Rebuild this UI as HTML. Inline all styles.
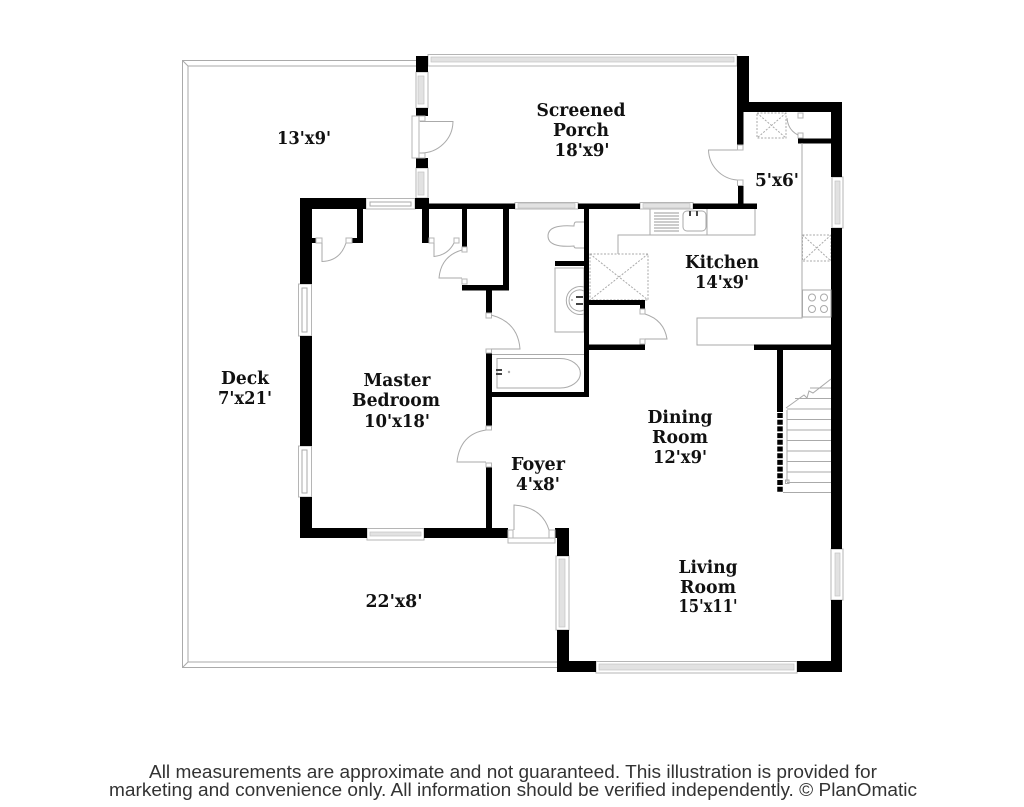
<!DOCTYPE html>
<html><head><meta charset="utf-8"><style>
html,body{margin:0;padding:0;background:#fff;width:1024px;height:807px;overflow:hidden}
svg{display:block;filter:blur(.35px)}
.l{font-family:"DejaVu Serif",serif;font-weight:bold;font-size:17.5px;fill:#111;text-anchor:middle}
.f{font-family:"Liberation Sans",sans-serif;font-size:18px;fill:#333;text-anchor:middle}
.g{fill:none;stroke:#aaa;stroke-width:1}
.d{fill:none;stroke:#aaa;stroke-width:1;stroke-dasharray:2 1.5}
.w{fill:#fff;stroke:#b5b5b5;stroke-width:1}
.p{fill:#e2e2e2;stroke:#c4c4c4;stroke-width:.7}
</style></head><body>
<svg width="1024" height="807" viewBox="0 0 1024 807" xmlns="http://www.w3.org/2000/svg">
<rect width="1024" height="807" fill="#fff"/>
<!-- Deck -->
<path class="g" d="M416 60.5H182.5V667.5H557M416 66H188V662H557M182.5 60.5L188 66M182.5 667.5L188 662"/>
<!-- Chases -->
<g class="d">
<rect x="757" y="113" width="29" height="25"/><path d="M757 113L786 138M786 113L757 138"/>
<rect x="802.5" y="235" width="28.5" height="26"/><path d="M802.5 235L831 261M831 235L802.5 261"/>
<rect x="590" y="254" width="58" height="46"/><path d="M590 254L648 300M648 254L590 300"/>
</g>
<!-- Windows -->
<g>
<rect class="w" x="428" y="54.5" width="309" height="11.5"/><rect class="p" x="431" y="57" width="303" height="5"/>
<rect class="w" x="416" y="72" width="12" height="36"/><rect class="p" x="418" y="76" width="6" height="28"/>
<rect class="w" x="416" y="168" width="12" height="30"/><rect class="p" x="418" y="172" width="6" height="23"/>
<rect class="w" x="366" y="198.5" width="49" height="10.5"/><rect class="g" x="370" y="202" width="41" height="4"/>
<rect class="w" x="515" y="202.5" width="63" height="6.5"/><rect class="p" x="518" y="203.5" width="57" height="4.5"/>
<rect class="w" x="640" y="202.5" width="53" height="6.5"/><rect class="p" x="643" y="203.5" width="47" height="4.5"/>
<rect class="w" x="832" y="177" width="11" height="51"/><rect class="p" x="835" y="181" width="5" height="43"/>
<rect class="w" x="298.5" y="284" width="13" height="52"/><rect class="g" x="302" y="288" width="5" height="44"/>
<rect class="w" x="298.5" y="446" width="13" height="51"/><rect class="g" x="302" y="450" width="5" height="43"/>
<rect class="w" x="367" y="528.5" width="57" height="11.5"/><rect class="p" x="370" y="532" width="51" height="4"/>
<rect class="w" x="556" y="556" width="13" height="74"/><rect class="p" x="559" y="559" width="6" height="68"/>
<rect class="w" x="831" y="549" width="12" height="51"/><rect class="p" x="835" y="553" width="5" height="43"/>
<rect class="w" x="596" y="661.5" width="201" height="11.5"/><rect class="p" x="599" y="664" width="195" height="6"/>
</g>
<!-- Bathroom fixtures -->
<g class="g">
<path d="M584 222H576Q574 222 574 226Q548 224 548 236Q548 248 574 246Q574 248 576 248H584"/>
<rect x="555" y="268" width="29" height="64"/>
<path d="M584 287A14 14 0 1 0 584 314M584 291A10.5 10.5 0 1 0 584 310"/>
<path d="M492 354.5H584"/>
<path d="M497 358.5H560A20 14.5 0 0 1 560 388H497Z"/>
</g>
<g fill="#444"><rect x="496" y="369" width="6" height="2"/><rect x="496" y="373" width="6" height="2"/><rect x="576" y="296" width="7" height="2"/><rect x="576" y="303" width="7" height="2"/></g>
<circle cx="509" cy="372" r="1.2" fill="#aaa"/><circle cx="572" cy="300" r="1" fill="#aaa"/>
<!-- Walls -->
<g fill="#000">
<rect x="416" y="56" width="12" height="16"/><rect x="416" y="108" width="12" height="8"/><rect x="416" y="158" width="12" height="10"/>
<rect x="737" y="56" width="12" height="56"/><rect x="737" y="102" width="105" height="10"/><rect x="831" y="102" width="11" height="75"/>
<rect x="737" y="110" width="6.5" height="35"/><rect x="798" y="138.5" width="33" height="5"/>
<rect x="738" y="186" width="5.5" height="20"/>
<rect x="415" y="198" width="14" height="11"/><rect x="415" y="203.5" width="100" height="5.5"/><rect x="578" y="203.5" width="62" height="5.5"/><rect x="693" y="203.5" width="64" height="5.5"/>
<rect x="300" y="198" width="66" height="11"/><rect x="300" y="198" width="12" height="86"/><rect x="300" y="336" width="12" height="110"/><rect x="300" y="497" width="12" height="41"/>
<rect x="300" y="528" width="67" height="10"/><rect x="424" y="528" width="84" height="10"/>
<rect x="357" y="205" width="6" height="38"/><rect x="352" y="238" width="11" height="5"/><rect x="312" y="238" width="4" height="5"/>
<rect x="422" y="205" width="7" height="38"/>
<rect x="462" y="205" width="5" height="42"/><rect x="503" y="205" width="6" height="85"/><rect x="462" y="285" width="47" height="5.5"/>
<rect x="486" y="288" width="6" height="25"/><rect x="486" y="353" width="6" height="73"/><rect x="486" y="467" width="6" height="65"/>
<rect x="584" y="205" width="5" height="192"/><rect x="486" y="392" width="103" height="5"/><rect x="555" y="261" width="30" height="5"/>
<rect x="587" y="300" width="58" height="5"/><rect x="640" y="302" width="5" height="7"/><rect x="587" y="344.5" width="58" height="5.5"/>
<rect x="754" y="344.5" width="80" height="5.5"/><rect x="777" y="348" width="6" height="64"/>
<rect x="831" y="228" width="11" height="321"/><rect x="831" y="600" width="11" height="72"/>
<rect x="797" y="661" width="45" height="11"/><rect x="557" y="661" width="39" height="11"/><rect x="557" y="630" width="12" height="42"/>
<rect x="557" y="528" width="12" height="28"/><rect x="555" y="528" width="14" height="10"/>
</g>
<!-- Dashed stair wall -->
<path d="M780 413V492" stroke="#000" stroke-width="5.5" stroke-dasharray="5 1.7" fill="none"/>
<!-- Door jamb squares -->
<g>
<rect class="w" x="737.5" y="145" width="5.5" height="5"/><rect class="w" x="737.5" y="180" width="5.5" height="5.5"/>
<rect class="w" x="798" y="113" width="5" height="5"/><rect class="w" x="798" y="133" width="5" height="5"/>
<rect class="w" x="419" y="116" width="6" height="5"/><rect class="w" x="419" y="153" width="6" height="5"/>
<rect class="w" x="316" y="238" width="6" height="5"/><rect class="w" x="346" y="238" width="6" height="5"/>
<rect class="w" x="429" y="238" width="5" height="5"/><rect class="w" x="454" y="238" width="5" height="5"/>
<rect class="w" x="462" y="247" width="5" height="5"/><rect class="w" x="462" y="279" width="5" height="5"/>
<rect class="w" x="486" y="313" width="5.5" height="5"/><rect class="w" x="486" y="349" width="5.5" height="4"/>
<rect class="w" x="486" y="426" width="5.5" height="4"/><rect class="w" x="486" y="463" width="5.5" height="4"/>
<rect class="w" x="640" y="309" width="5" height="5"/><rect class="w" x="640" y="339" width="5" height="5"/>
<rect class="w" x="508" y="530" width="5" height="8"/><rect class="w" x="549" y="530" width="6" height="8"/>
</g>
<!-- Door frames -->
<rect class="w" x="412" y="116" width="7" height="42"/>
<rect class="w" x="508" y="538" width="47" height="5"/>
<!-- Door arcs -->
<g class="g">
<path d="M420 121.5H453A32 32 0 0 1 420 153"/>
<path d="M737 150H708.5A31 31 0 0 0 737 180"/>
<path d="M787 118Q788 130 798 135"/>
<path d="M322 243V261.5Q340 261 346 243"/>
<path d="M434 243V256.5Q448 255 454 243"/>
<path d="M462 250Q441 256 439 278H462"/>
<path d="M491 315Q518 322 520 349H491"/>
<path d="M486 430Q460 434 457 462H486"/>
<path d="M645 314Q664 320 667 339H645"/>
<path d="M514 530V505Q542 507 549 530"/>
</g>
<!-- Kitchen -->
<g class="g">
<path d="M755 209V235H618V254"/>
<path d="M650 209V235M707 209V235"/>
<rect x="683" y="211" width="23" height="20" rx="4"/>
<path d="M654 213H679M654 216H679M654 219H679M654 222H679M654 225H679M654 228H679M654 231H679" stroke="#999"/>
<path d="M802 143V318H697V345H754"/>
<rect x="802.5" y="290" width="28.5" height="27"/>
<circle cx="812" cy="297.5" r="3.5"/><circle cx="824" cy="297.5" r="3.5"/><circle cx="812" cy="309" r="3.5"/><circle cx="824" cy="309" r="3.5"/>
</g>
<g fill="#444"><rect x="689" y="211" width="2" height="5"/><rect x="696" y="211" width="2" height="5"/></g>
<!-- Stairs -->
<g class="g">
<path d="M787 410V482M783 492.5H831"/>
<path d="M810 388H831M795 398.5H831M787 409H831M787 419.5H831M787 430H831M787 440.5H831M787 451H831M787 461.5H831M787 472H831M787 482.5H831"/>
<path d="M786 408L804 395L807 398L809 391L813 393L831 379"/>
</g>
<rect class="g" x="785.5" y="480" width="3.5" height="3.5"/>
<!-- Labels -->
<text class="l" x="581" y="116" textLength="89" lengthAdjust="spacingAndGlyphs">Screened</text>
<text class="l" x="581" y="136" textLength="56" lengthAdjust="spacingAndGlyphs">Porch</text>
<text class="l" x="582" y="156" textLength="55" lengthAdjust="spacingAndGlyphs">18'x9'</text>
<text class="l" x="304" y="144" textLength="54" lengthAdjust="spacingAndGlyphs">13'x9'</text>
<text class="l" x="777" y="186" textLength="44" lengthAdjust="spacingAndGlyphs">5'x6'</text>
<text class="l" x="722" y="268" textLength="74" lengthAdjust="spacingAndGlyphs">Kitchen</text>
<text class="l" x="722" y="288" textLength="54" lengthAdjust="spacingAndGlyphs">14'x9'</text>
<text class="l" x="245" y="384" textLength="48" lengthAdjust="spacingAndGlyphs">Deck</text>
<text class="l" x="245" y="404" textLength="54" lengthAdjust="spacingAndGlyphs">7'x21'</text>
<text class="l" x="397" y="386" textLength="67" lengthAdjust="spacingAndGlyphs">Master</text>
<text class="l" x="396" y="406" textLength="88" lengthAdjust="spacingAndGlyphs">Bedroom</text>
<text class="l" x="397" y="427" textLength="66" lengthAdjust="spacingAndGlyphs">10'x18'</text>
<text class="l" x="680" y="423" textLength="65" lengthAdjust="spacingAndGlyphs">Dining</text>
<text class="l" x="680" y="443" textLength="56" lengthAdjust="spacingAndGlyphs">Room</text>
<text class="l" x="680" y="463" textLength="54" lengthAdjust="spacingAndGlyphs">12'x9'</text>
<text class="l" x="538" y="470" textLength="54" lengthAdjust="spacingAndGlyphs">Foyer</text>
<text class="l" x="538" y="490" textLength="44" lengthAdjust="spacingAndGlyphs">4'x8'</text>
<text class="l" x="708" y="573" textLength="59" lengthAdjust="spacingAndGlyphs">Living</text>
<text class="l" x="708" y="593" textLength="56" lengthAdjust="spacingAndGlyphs">Room</text>
<text class="l" x="708" y="612" textLength="59" lengthAdjust="spacingAndGlyphs">15'x11'</text>
<text class="l" x="394" y="607" textLength="57" lengthAdjust="spacingAndGlyphs">22'x8'</text>
<text class="f" x="513" y="778" textLength="728" lengthAdjust="spacingAndGlyphs">All measurements are approximate and not guaranteed. This illustration is provided for</text>
<text class="f" x="513" y="796" textLength="808" lengthAdjust="spacingAndGlyphs">marketing and convenience only. All information should be verified independently. © PlanOmatic</text>
</svg>
</body></html>
